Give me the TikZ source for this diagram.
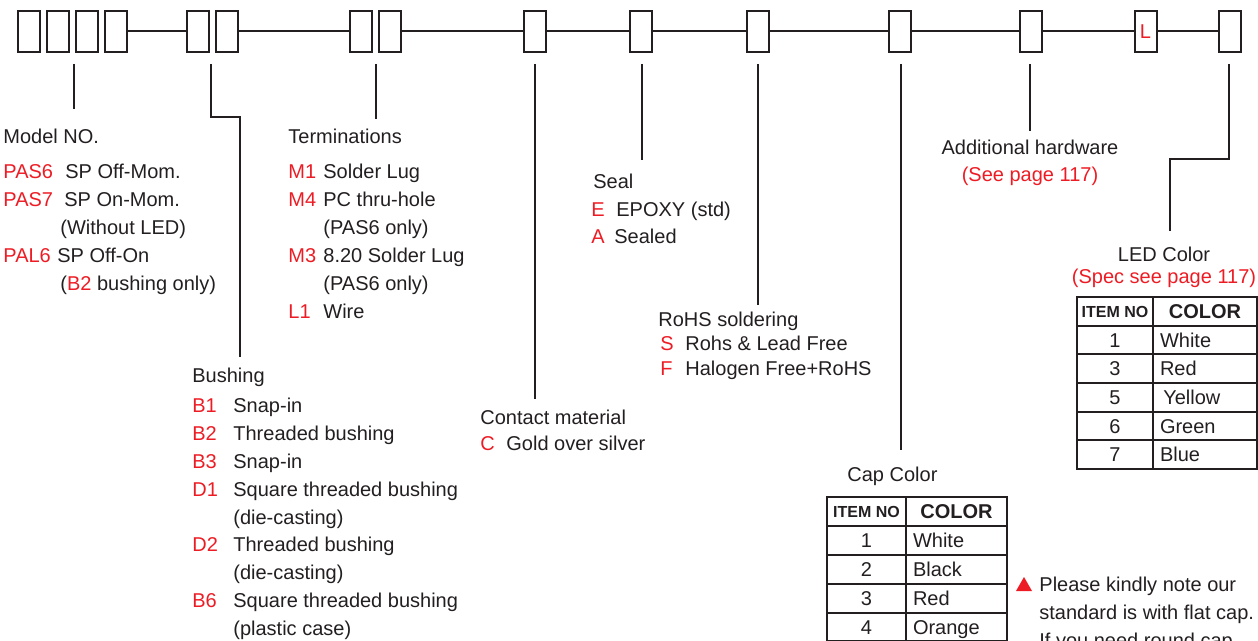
\documentclass[tikz,border=0pt]{standalone}
\usepackage{fontspec}
\setmainfont{Liberation Sans}
\usepackage{xcolor}
\definecolor{ink}{HTML}{231F20}
\definecolor{codered}{HTML}{ED1C24}
\usetikzlibrary{positioning,calc}

\begin{document}
\begin{tikzpicture}[
  x=0.5pt, y=-0.5pt,
  font=\fontsize{10}{12}\selectfont,
  codebox/.style={
    draw=ink, line width=1pt, inner sep=0pt,
    minimum width=11pt, minimum height=20.5pt,
  },
  link/.style={draw=ink, line width=1pt},
  leader/.style={draw=ink, line width=0.65pt},
  item/.style={anchor=base west, inner sep=0pt, text=ink},
  code/.style={anchor=base west, inner sep=0pt, text=codered},
  capt/.style={anchor=base, inner sep=0pt},
  numcell/.style={
    draw=ink, line width=1pt, inner sep=0pt, text=ink,
    minimum width=#1, minimum height=14.33pt,
    text height=7.2pt, text depth=0pt,
  },
  colcell/.style={
    draw=ink, line width=1pt, inner sep=0pt, inner xsep=3.5pt, text=ink,
    text width=#1, align=left, minimum height=14.33pt,
    text height=7.2pt, text depth=0pt,
  },
  hdsmall/.style={font=\bfseries\fontsize{8}{9}\selectfont, text height=5.8pt},
  hdbig/.style={font=\bfseries\fontsize{10}{12}\selectfont},
]

% Page frame (reference proportions)
\useasboundingbox (0,0) rectangle (1258,641);
\clip (0,0) rectangle (1258,641);

% Code boxes along the top line
\node[codebox] (modelA)   at (29,31.5)     {};
\node[codebox] (modelB)   at (58,31.5)     {};
\node[codebox] (modelC)   at (87,31.5)     {};
\node[codebox] (modelD)   at (115.5,31.5)  {};
\node[codebox] (bushA)    at (197.5,31.5)  {};
\node[codebox] (bushB)    at (226.5,31.5)  {};
\node[codebox] (termA)    at (360.5,31.5)  {};
\node[codebox] (termB)    at (389.5,31.5)  {};
\node[codebox] (contact)  at (535,31.5)    {};
\node[codebox] (seal)     at (641,31.5)    {};
\node[codebox] (rohs)     at (758,31.5)    {};
\node[codebox] (cap)      at (899.5,31.5)  {};
\node[codebox] (hardware) at (1031,31.5)   {};
\node[codebox, text=codered] (led) at (1145.5,31.5) {L};
\node[codebox] (ledcolor) at (1229.5,31.5) {};

% Joining line between the groups
\draw[link] (modelD) -- (bushA);
\draw[link] (bushB) -- (termA);
\draw[link] (termB) -- (contact);
\draw[link] (contact) -- (seal);
\draw[link] (seal) -- (rohs);
\draw[link] (rohs) -- (cap);
\draw[link] (cap) -- (hardware);
\draw[link] (hardware) -- (led);
\draw[link] (led) -- (ledcolor);

% Leader ends (free ends under the boxes and above the captions)
\coordinate (topModel)    at (74,64);    \coordinate (endModel)    at (74,109);
\coordinate (topBushing)  at (211,64);   \coordinate (bendBushingA) at (211,117);
\coordinate (bendBushingB) at (240,117); \coordinate (endBushing)  at (240,357);
\coordinate (topTerm)     at (376,64);   \coordinate (endTerm)     at (376,119);
\coordinate (topContact)  at (535,64);   \coordinate (endContact)  at (535,399);
\coordinate (topSeal)     at (642,64);   \coordinate (endSeal)     at (642,160);
\coordinate (topRohs)     at (758,64);   \coordinate (endRohs)     at (758,305);
\coordinate (topCap)      at (901,64);   \coordinate (endCap)      at (901,450);
\coordinate (topHardware) at (1030,64);  \coordinate (endHardware) at (1030,131);
\coordinate (topLed)      at (1229,64);  \coordinate (bendLedA)    at (1229,159);
\coordinate (bendLedB)    at (1170,159); \coordinate (endLed)      at (1170,231);

\draw[leader] (topModel) -- (endModel);
\draw[leader] (topBushing) -- (bendBushingA) -- (bendBushingB) -- (endBushing);
\draw[leader] (topTerm) -- (endTerm);
\draw[leader] (topContact) -- (endContact);
\draw[leader] (topSeal) -- (endSeal);
\draw[leader] (topRohs) -- (endRohs);
\draw[leader] (topCap) -- (endCap);
\draw[leader] (topHardware) -- (endHardware);
\draw[leader] (topLed) -- (bendLedA) -- (bendLedB) -- (endLed);

% Model NO.
\node[item] (hdModel) at (3,144) {Model NO.};
\node[code] (cPAS6)   at (3,179)  {PAS6};
\node[item] (tPAS6)   at (65,179) {SP Off-Mom.};
\node[code] (cPAS7)   at (3,207)  {PAS7};
\node[item] (tPAS7)   at (64,207) {SP On-Mom.};
\node[item] (tPAS7b)  at (60,235) {(Without LED)};
\node[code] (cPAL6)   at (3,263)  {PAL6};
\node[item] (tPAL6)   at (57,263) {SP Off-On};
\node[item] (tPAL6b)  at (60,291) {(\textcolor{codered}{B2} bushing only)};

% Terminations
\node[item] (hdTerm) at (288,144) {Terminations};
\node[code] (cM1)    at (288,179) {M1};
\node[item] (tM1)    at (323,179) {Solder Lug};
\node[code] (cM4)    at (288,207) {M4};
\node[item] (tM4)    at (323,207) {PC thru-hole};
\node[item] (tM4b)   at (323,235) {(PAS6 only)};
\node[code] (cM3)    at (288,263) {M3};
\node[item] (tM3)    at (323,263) {8.20 Solder Lug};
\node[item] (tM3b)   at (323,291) {(PAS6 only)};
\node[code] (cL1)    at (288,319) {L1};
\node[item] (tL1)    at (323,319) {Wire};

% Bushing
\node[item] (hdBushing) at (192,383)   {Bushing};
\node[code] (cB1)  at (192,413)   {B1};
\node[item] (tB1)  at (233,413)   {Snap-in};
\node[code] (cB2)  at (192,440.8) {B2};
\node[item] (tB2)  at (233,440.8) {Threaded bushing};
\node[code] (cB3)  at (192,468.5) {B3};
\node[item] (tB3)  at (233,468.5) {Snap-in};
\node[code] (cD1)  at (192,496.3) {D1};
\node[item] (tD1)  at (233,496.3) {Square threaded bushing};
\node[item] (tD1b) at (233,524)   {(die-casting)};
\node[code] (cD2)  at (192,551.8) {D2};
\node[item] (tD2)  at (233,551.8) {Threaded bushing};
\node[item] (tD2b) at (233,579.5) {(die-casting)};
\node[code] (cB6)  at (192,607.3) {B6};
\node[item] (tB6)  at (233,607.3) {Square threaded bushing};
\node[item] (tB6b) at (233,635)   {(plastic case)};

% Contact material
\node[item] (hdContact) at (480,424) {Contact material};
\node[code] (cC) at (480,451) {C};
\node[item] (tC) at (506,451) {Gold over silver};

% Seal
\node[item] (hdSeal) at (593,189) {Seal};
\node[code] (cE) at (591,217) {E};
\node[item] (tE) at (616,217) {EPOXY (std)};
\node[code] (cA) at (591,244) {A};
\node[item] (tA) at (614,244) {Sealed};

% RoHS soldering
\node[item] (hdRohs) at (658,327) {RoHS soldering};
\node[code] (cS) at (660,351) {S};
\node[item] (tS) at (685,351) {Rohs \& Lead Free};
\node[code] (cF) at (660,376) {F};
\node[item] (tF) at (685,376) {Halogen Free+RoHS};

% Additional hardware
\node[capt, text=ink]     (hdHardware)  at (1030,155) {Additional hardware};
\node[capt, text=codered] (refHardware) at (1030,182) {(See page 117)};

% LED color
\node[capt, text=ink]     (hdLed)  at (1164,262) {LED Color};
\node[capt, text=codered] (refLed) at (1164,284) {(Spec see page 117)};

\node[numcell=38pt, hdsmall] (ledHdNo)  at (1115,311.3) {ITEM NO};
\node[numcell=52pt, hdbig]   (ledHdCol) at (1205,311.3) {COLOR};
\node[numcell=38pt] (ledNo1) at (1115,340)   {1};
\node[colcell=45pt] (ledC1)  at (1205,340)   {White};
\node[numcell=38pt] (ledNo3) at (1115,368.7) {3};
\node[colcell=45pt] (ledC3)  at (1205,368.7) {Red};
\node[numcell=38pt] (ledNo5) at (1115,397.3) {5};
\node[colcell=45pt] (ledC5)  at (1205,397.3) {\,Yellow};
\node[numcell=38pt] (ledNo6) at (1115,426)   {6};
\node[colcell=45pt] (ledC6)  at (1205,426)   {Green};
\node[numcell=38pt] (ledNo7) at (1115,454.7) {7};
\node[colcell=45pt] (ledC7)  at (1205,454.7) {Blue};

% Cap color
\node[item] (hdCap) at (847,481) {Cap Color};

\node[numcell=39.5pt, hdsmall] (capHdNo)  at (866.5,511.5) {ITEM NO};
\node[numcell=50.5pt, hdbig]   (capHdCol) at (956.5,511.5) {COLOR};
\node[numcell=39.5pt] (capNo1) at (866.5,540.4) {1};
\node[colcell=43.5pt] (capC1)  at (956.5,540.4) {White};
\node[numcell=39.5pt] (capNo2) at (866.5,569.3) {2};
\node[colcell=43.5pt] (capC2)  at (956.5,569.3) {Black};
\node[numcell=39.5pt] (capNo3) at (866.5,598.2) {3};
\node[colcell=43.5pt] (capC3)  at (956.5,598.2) {Red};
\node[numcell=39.5pt] (capNo4) at (866.5,627.1) {4};
\node[colcell=43.5pt] (capC4)  at (956.5,627.1) {Orange};

% Flat cap note
\fill[codered] (1016,591) -- (1032,591) -- (1024,577) -- cycle;
\node[item] (noteA) at (1039,591) {Please kindly note our};
\node[item] (noteB) at (1039,619) {standard is with flat cap.};
\node[item] (noteC) at (1039,647) {If you need round cap,};

\end{tikzpicture}
\end{document}
